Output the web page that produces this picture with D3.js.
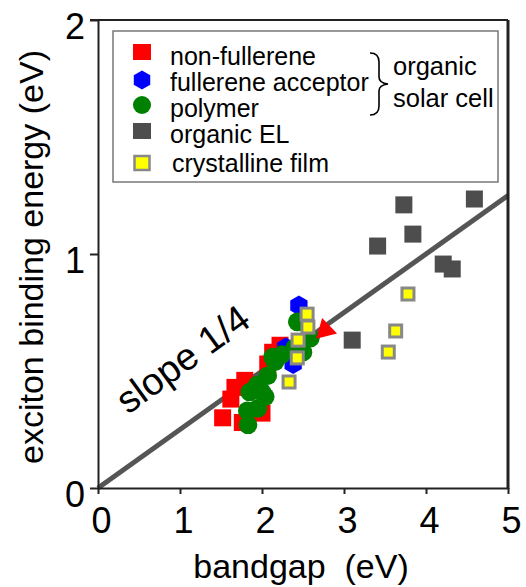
<!DOCTYPE html>
<html><head><meta charset="utf-8">
<script src="https://cdn.jsdelivr.net/npm/d3@7/dist/d3.min.js"></script>
<style>
html,body{margin:0;padding:0;background:#fff;}
svg{display:block;font-family:"Liberation Sans",Arial,sans-serif;}
</style></head>
<body>
<svg id="c" width="526" height="587"></svg>
<script>
// ---- data ----
const xTicks = [0,1,2,3,4,5];
const yTicks = [0,1,2];
const nonFullerene = [[1.52,0.30],[1.76,0.28],[1.62,0.38],[1.67,0.43],[1.79,0.46],[1.95,0.33],[2.0,0.32],[2.07,0.53],[2.22,0.61],[2.13,0.58]];
const nonFullereneTri = [[2.77,0.675]];
const fullerene = [[2.45,0.78],[2.29,0.60],[2.38,0.53]];
const polymer = [[2.43,0.71],[2.59,0.64],[2.50,0.58],[2.40,0.60],[2.24,0.57],[2.16,0.54],[2.13,0.56],[2.07,0.48],[1.94,0.44],[2.00,0.41],[1.85,0.41],[2.04,0.39],[1.95,0.34],[1.82,0.33],[1.83,0.27]];
const organicEL = [[3.73,1.21],[4.59,1.235],[3.84,1.085],[3.41,1.034],[4.21,0.957],[4.32,0.936],[3.10,0.632]];
const crystalline = [[2.55,0.743],[2.56,0.688],[2.44,0.632],[2.43,0.556],[2.33,0.453],[3.78,0.829],[3.63,0.671],[3.54,0.581]];
const slope = 0.25;
const legendItems = ["non-fullerene","fullerene acceptor","polymer","organic EL","crystalline film"];

// ---- layout ----
const svg = d3.select("#c");
const x = d3.scaleLinear().domain([0,5]).range([98,508]);
const y = d3.scaleLinear().domain([0,2]).range([488,20]);
const axisColor = "#222";

// slope line
svg.append("line")
  .attr("x1", x(0)).attr("y1", y(0))
  .attr("x2", x(5)).attr("y2", y(5*slope))
  .attr("stroke", "#555").attr("stroke-width", 5);

// points
const sq = 17;
svg.append("g").selectAll("rect").data(nonFullerene).join("rect")
  .attr("x", d => x(d[0]) - sq/2).attr("y", d => y(d[1]) - sq/2)
  .attr("width", sq).attr("height", sq).attr("fill", "#ff0000");
const hex = (r) => {
  const pts = d3.range(6).map(i => { const a = Math.PI/3*i - Math.PI/2; return [r*Math.cos(a), r*Math.sin(a)]; });
  return "M" + pts.map(p => p.join(",")).join("L") + "Z";
};
svg.append("g").selectAll("path").data(fullerene).join("path")
  .attr("d", hex(10))
  .attr("transform", d => `translate(${x(d[0])},${y(d[1])})`)
  .attr("fill", "#0000ff");
svg.append("g").selectAll("circle").data(polymer).join("circle")
  .attr("cx", d => x(d[0])).attr("cy", d => y(d[1])).attr("r", 9.3)
  .attr("fill", "#008000");
svg.append("g").selectAll("path").data(nonFullereneTri).join("path")
  .attr("d", d3.symbol(d3.symbolTriangle, 200))
  .attr("transform", d => `translate(${x(d[0])},${y(d[1])}) rotate(-14)`)
  .attr("fill", "#ff0000");
svg.append("g").selectAll("rect").data(organicEL).join("rect")
  .attr("x", d => x(d[0]) - sq/2).attr("y", d => y(d[1]) - sq/2)
  .attr("width", sq).attr("height", sq).attr("fill", "#4d4d4d");
svg.append("g").selectAll("rect").data(crystalline).join("rect")
  .attr("x", d => x(d[0]) - 6).attr("y", d => y(d[1]) - 6)
  .attr("width", 12).attr("height", 12).attr("fill", "#ffff00")
  .attr("stroke", "#888").attr("stroke-width", 3);

// frame
svg.append("line").attr("x1", 90).attr("x2", 508).attr("y1", 20).attr("y2", 20)
  .attr("stroke", axisColor).attr("stroke-width", 2);
svg.append("line").attr("x1", 508).attr("x2", 508).attr("y1", 20).attr("y2", 489)
  .attr("stroke", axisColor).attr("stroke-width", 3);

// axes
const xAxis = svg.append("g").attr("transform", `translate(0,${y(0)})`)
  .call(d3.axisBottom(x).tickValues(xTicks).tickFormat(d3.format("d")).tickSize(6).tickSizeOuter(0));
xAxis.select(".domain").attr("stroke", axisColor).attr("stroke-width", 2);
xAxis.selectAll(".tick line").attr("stroke", axisColor).attr("stroke-width", 2);
xAxis.selectAll(".tick text").attr("fill", "#000").attr("font-size", 36)
  .attr("font-family", '"Liberation Sans",Arial,sans-serif')
  .attr("y", 45).attr("dy", 0).attr("x", 3);

const yAxis = svg.append("g").attr("transform", `translate(${x(0)},0)`)
  .call(d3.axisLeft(y).tickValues(yTicks).tickFormat(d3.format("d")).tickSize(8).tickSizeOuter(0));
yAxis.select(".domain").attr("stroke", axisColor).attr("stroke-width", 2);
yAxis.selectAll(".tick line").attr("stroke", axisColor).attr("stroke-width", 2);
yAxis.selectAll(".tick text").attr("fill", "#000").attr("font-size", 36)
  .attr("font-family", '"Liberation Sans",Arial,sans-serif')
  .attr("x", -13).attr("dy", 0).attr("y", 18);

// axis titles
svg.append("text").attr("x", 301).attr("y", 578).attr("text-anchor", "middle")
  .attr("font-size", 34).style("white-space", "pre").attr("fill", "#000")
  .text("bandgap  (eV)");
svg.append("text").attr("transform", "translate(43,257) rotate(-90)")
  .attr("text-anchor", "middle").attr("font-size", 34).attr("fill", "#000")
  .text("exciton binding energy (eV)");

// slope label
svg.append("text").attr("transform", "translate(128,415) rotate(-36)")
  .attr("font-size", 38).attr("fill", "#000").text("slope 1/4");

// legend
const lg = svg.append("g");
lg.append("rect").attr("x", 113).attr("y", 31).attr("width", 385).attr("height", 151)
  .attr("fill", "#fff").attr("stroke", "#777").attr("stroke-width", 1.5);
const rowY = [52, 80, 105, 131, 163];
const textY = [65, 91, 117, 143, 172];
const mx = 142;
lg.append("rect").attr("x", mx-9).attr("y", rowY[0]-8).attr("width", 18).attr("height", 16).attr("fill", "#ff0000");
lg.append("path").attr("d", hex(9.5)).attr("transform", `translate(${mx},${rowY[1]})`).attr("fill", "#0000ff");
lg.append("circle").attr("cx", mx).attr("cy", rowY[2]).attr("r", 9).attr("fill", "#008000");
lg.append("rect").attr("x", mx-9).attr("y", rowY[3]-8).attr("width", 18).attr("height", 16).attr("fill", "#4d4d4d");
lg.append("rect").attr("x", mx-7.5).attr("y", rowY[4]-7).attr("width", 15).attr("height", 14)
  .attr("fill", "#ffff00").attr("stroke", "#888").attr("stroke-width", 2.5);
lg.selectAll("text.item").data(legendItems).join("text").attr("class", "item")
  .attr("x", (d,i) => i === 4 ? 172 : 170).attr("y", (d,i) => textY[i])
  .attr("font-size", 25).attr("fill", "#000").text(d => d);
// brace
lg.append("path")
  .attr("d", "M370,53 Q379,53 379,62 L379,77 Q379,83 388,84 Q379,85 379,91 L379,106 Q379,115 370,115")
  .attr("fill", "none").attr("stroke", "#000").attr("stroke-width", 1.6);
lg.append("text").attr("x", 393).attr("y", 75).attr("font-size", 25.5).attr("fill", "#000").text("organic");
lg.append("text").attr("x", 393).attr("y", 107).attr("font-size", 25.5).attr("fill", "#000").text("solar cell");
</script>
</body></html>
